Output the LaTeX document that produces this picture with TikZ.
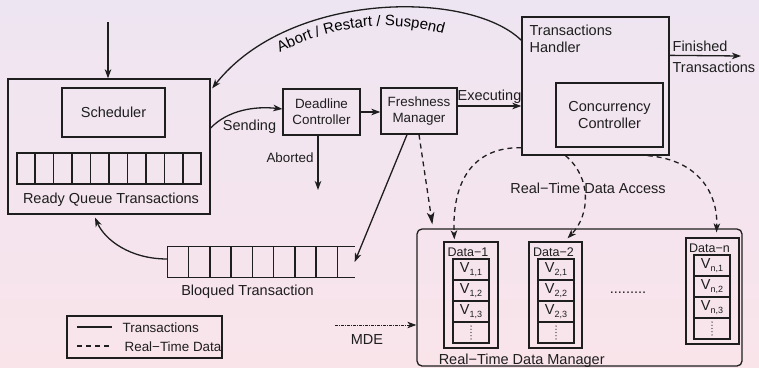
\documentclass[tikz,border=0pt]{standalone}
\usepackage{fontspec}
\setmainfont{Liberation Sans}
\usetikzlibrary{arrows.meta,calc,decorations.text}
\newcommand\FntA{\fontsize{14.5}{17}\selectfont}
\newcommand\FntB{\fontsize{13.4}{16}\selectfont}
\newcommand\FntC{\fontsize{12.5}{14}\selectfont}
\newcommand\FntArc{\fontsize{15}{17}\selectfont}
\newcommand\Vsub[1]{V\raisebox{-2.5pt}{\fontsize{9}{9}\selectfont #1}}
\definecolor{ink}{HTML}{1E1E1E}
\definecolor{bgtop}{HTML}{EEE5F2}
\definecolor{bgbot}{HTML}{F9E4EA}
\tikzset{
  box/.style={draw, inner sep=0pt, align=center},
  lbl/.style={inner sep=0pt, font=\FntA},
  arr/.style={-{Stealth[length=9pt,width=6.5pt,inset=2.5pt]}},
  arrbig/.style={-{Stealth[length=12pt,width=7.5pt,inset=3pt]}},
  dsh/.style={dash pattern=on 5pt off 4pt},
  mdeline/.style={dash pattern=on 3pt off 1pt on 1pt off 1pt, line width=0.9pt},
  cell/.style={draw, inner sep=0pt, minimum width=36pt, minimum height=21pt, font=\FntA},
  vdotline/.style={line width=1.3pt, line cap=round, dash pattern=on 0pt off 3.2pt},
}
\begin{document}
\begin{tikzpicture}[x=1pt,y=-1pt,line width=1.3pt,color=ink]
\fill[top color=bgtop, bottom color=bgbot] (0,0) rectangle (759,367);
\useasboundingbox (0,0) rectangle (759,367);

% ready queue block
\node[box, minimum width=202pt, minimum height=135pt] (rqbox) at (109,146.5) {};
\node[box, font=\FntA, minimum width=103pt, minimum height=49pt] (sched) at (113.5,112.5) {Scheduler};
\node[box, minimum width=184pt, minimum height=31pt] (rq) at (109,168.5) {};
\foreach \k in {1,...,9}
  \draw ($(rq.north west)!\k/10!(rq.north east)$) -- ($(rq.south west)!\k/10!(rq.south east)$);
\node[lbl, anchor=base] (rql) at (111,203) {Ready Queue Transactions};

% controllers
\node[box, font=\FntB, minimum width=77pt, minimum height=46pt] (dc) at (321.5,112) {Deadline\\Controller};
\node[box, font=\FntB, minimum width=76pt, minimum height=46pt] (fm) at (419,111) {Freshness\\Manager};
\node[box, minimum width=147pt, minimum height=138pt] (th) at (595.5,86) {};
\node[lbl, anchor=north west, align=left] (thl) at (529,24) {Transactions\\Handler};
\node[box, font=\FntA, minimum width=107pt, minimum height=64pt] (cc) at (609.5,115) {Concurrency\\Controller};

% bloqued queue
\node[minimum width=186pt, minimum height=30pt, inner sep=0pt] (bq) at (261,262) {};
\draw (bq.north east) -- (bq.north west) -- (bq.south west) -- (bq.south east);
\foreach \k in {1,...,8}
  \draw ($(bq.north west)+(\k*21.25,0)$) -- ($(bq.south west)+(\k*21.25,0)$);
\node[lbl, anchor=base] (bql) at (247.5,295) {Bloqued Transaction};

% legend
\node[box, minimum width=155pt, minimum height=42pt] (leg) at (144.5,337) {};
\draw (77,327) -- (112,327);
\draw[dsh] (77,346) -- (112,346);
\node[lbl, font=\FntB, anchor=base west] (legt1) at (122,332) {Transactions};
\node[lbl, font=\FntB, anchor=base west] (legt2) at (124,351) {Real−Time Data};

% real-time data manager
\node[box, rounded corners=5pt, minimum width=325pt, minimum height=137pt] (rtm) at (579.5,297.5) {};
\node[lbl, anchor=base] (rtml) at (521.7,364) {Real−Time Data Manager};

\node[box, minimum width=54pt, minimum height=106pt] (d1) at (471,295) {};
\node[lbl, font=\FntC, anchor=base west] (d1l) at (447,256) {Data−1};
\node[cell] (c11) at (471,269.5) {\Vsub{1,1}};
\node[cell] (c12) at (471,290.5) {\Vsub{1,2}};
\node[cell] (c13) at (471,311.5) {\Vsub{1,3}};
\node[cell] (c14) at (471,332.5) {};

\node[box, minimum width=53pt, minimum height=106pt] (d2) at (555.5,295) {};
\node[lbl, font=\FntC, anchor=base west] (d2l) at (532.5,256) {Data−2};
\node[cell] (c21) at (556,269.5) {\Vsub{2,1}};
\node[cell] (c22) at (556,290.5) {\Vsub{2,2}};
\node[cell] (c23) at (556,311.5) {\Vsub{2,3}};
\node[cell] (c24) at (556,332.5) {};

\node[lbl, anchor=base] (dots) at (628,293) {.........};

\node[box, minimum width=53pt, minimum height=106pt] (dn) at (712.5,291) {};
\node[lbl, font=\FntC, anchor=base west] (dnl) at (688.5,252) {Data−n};
\node[cell] (cn1) at (712,265.5) {\Vsub{n,1}};
\node[cell] (cn2) at (712,286.5) {\Vsub{n,2}};
\node[cell] (cn3) at (712,307.5) {\Vsub{n,3}};
\node[cell] (cn4) at (712,328.5) {};
\foreach \c in {c14,c24,cn4}
  \draw[vdotline] ($(\c.center)+(0,-6.4)$) -- ($(\c.center)+(0,6.5)$);

% connectors
\coordinate (src) at (108,22);
\draw[arr] (src) -- (src |- rqbox.north);
\draw[arr] ($(rqbox.east)+(0,-18.5)$) .. controls (228,110) and (255,106) .. ($(dc.west)+(0,-3)$);
\node[lbl, anchor=base] (sendl) at (249.5,130) {Sending};
\coordinate (abend) at (318,190);
\draw[arr] ($(dc.south)+(-3.5,0)$) -- (abend);
\node[lbl, font=\FntB, anchor=base] (abl) at (290,162) {Aborted};
\draw[arr] (dc.east) -- (dc.east -| fm.west);
\coordinate (ex) at ($(fm.east)+(0,-5)$);
\draw[arr] (ex) -- (ex -| th.west);
\node[lbl, anchor=base] (exl) at (489.5,100) {Executing};
\coordinate (fin) at ($(th.north east)+(0,39)$);
\coordinate (finend) at (741,56);
\draw[arr] (fin) -- (finend);
\node[lbl, anchor=base west] (finl1) at (672,51) {Finished};
\node[lbl, anchor=base west] (finl2) at (672,72) {Transactions};

\draw[arr] ($(th.north west)+(0,24)$) .. controls (470,-10) and (290,-10) .. ($(rqbox.north east)+(1.5,10)$);
\coordinate (arcA) at (280,52.5);
\coordinate (arcB) at (490,52.5);
\path[decorate, decoration={text along path, text={|\FntArc|Abort / Restart / Suspend}, text align=left}]
  (arcA) .. controls (350,17) and (420,17) .. (arcB);

\draw[arr] ($(bq.west)+(0,-3)$) .. controls (130,259) and (105,240) .. ($(rqbox.south)+(-14,3)$);
\draw[arr] ($(fm.south)+(-12,0)$) -- (bq.east);
\draw[arrbig,dsh] (fm.south) -- ($(rtm.north west)+(16,-4)$);

\draw[arr,dsh] ($(th.south west)+(0,-8)$) .. controls (470,147) and (452,185) .. ($(d1.north west)+(11,-2)$);
\draw[arr,dsh] ($(th.south)+(-30,0)$) .. controls (592,178) and (590,215) .. ($(d2.north)+(12,-3)$);
\draw[arr,dsh] ($(th.south east)+(-22,0)$) .. controls (700,160) and (718,195) .. ($(dn.north)+(4,-5)$);
\node[lbl, anchor=base] (rtdal) at (588,193) {Real−Time Data Access};

\coordinate (mdes) at (335,325);
\draw[arr, mdeline] (mdes) -- (mdes -| rtm.west);
\node[lbl, anchor=base] (mdel) at (367,344) {MDE};
\end{tikzpicture}
\end{document}
